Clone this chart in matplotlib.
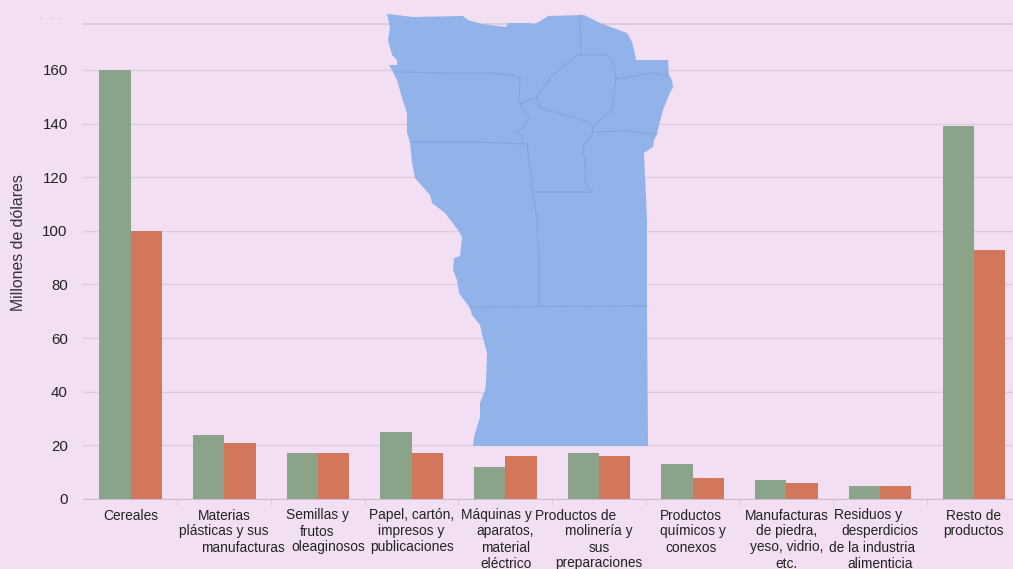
#Exportaciones por tipo de producto, con el mapa de fondo
import numpy as np
import matplotlib
matplotlib.use('Agg')
import matplotlib.pyplot as plt

plt.rcParams['font.family'] = ['Liberation Sans', 'DejaVu Sans']

#Datos
categorias = ['Cereales', 'Materias\nplásticas y sus\nmanufacturas', 'Semillas y\nfrutos\noleaginosos',
              'Papel, cartón,\nimpresos y\npublicaciones', 'Máquinas y\naparatos,\nmaterial\neléctrico',
              'Productos de\nmolinería y\nsus\npreparaciones', 'Productos\nquímicos y\nconexos',
              'Manufacturas\nde piedra,\nyeso, vidrio,\netc.', 'Residuos y\ndesperdicios\nde la industria\nalimenticia',
              'Resto de\nproductos']
serie_verde = [160, 24, 17, 25, 12, 17, 13, 7, 5, 139]
serie_naranja = [100, 21, 17, 17, 16, 16, 8, 6, 5, 93]
ticks_y = [0, 20, 40, 60, 80, 100, 120, 140, 160]

#Corrimiento en pixeles de cada renglon de los rotulos (el original no los centra todos)
corrimientos = [[0], [0, 0, 19], [0, -1, 10], [0, 0, 0], [-9, 0, 0, 1], [-23, 0, 0, 0], [-2, 0, -2],
                [0, 0, 0, 0], [-12, 0, -8, 0], [0, 0]]

#Contorno del mapa en pixeles de la imagen
mapa_x = [387, 397, 413, 463, 468, 482, 506, 508, 530, 533, 537, 548, 584, 600, 627, 632, 634, 636, 668, 669,
          672, 673, 669, 667, 663, 659, 657, 654, 653, 644, 647, 647, 648, 473, 474, 480, 480, 485, 486, 487,
          483, 480, 472, 470, 459, 457, 453, 454, 460, 462, 458, 445, 432, 430, 415, 412, 410, 407, 407, 402,
          397, 393, 389, 397, 397, 392, 388, 390]
mapa_y = [14, 15, 17, 16, 20, 24, 27, 23, 23, 24, 23, 16, 15, 23, 33, 42, 50, 60, 60, 75,
          80, 87, 95, 100, 110, 125, 134, 140, 147, 153, 220, 306, 446, 446, 437, 417, 403, 390, 383, 353,
          338, 325, 315, 308, 293, 280, 270, 258, 256, 237, 230, 213, 203, 195, 178, 163, 142, 133, 113, 98,
          80, 72, 65, 65, 60, 55, 40, 27]
#Limites entre departamentos
limites = [
    ([395, 447, 493, 520, 519], [72, 73, 73, 77, 103]),
    ([520, 537, 550, 577, 607, 613, 616, 612, 593, 583, 540, 537], [104, 97, 78, 55, 55, 62, 78, 110, 126, 120, 108, 97]),
    ([580, 581], [15, 55]),
    ([616, 652, 668], [79, 73, 76]),
    ([593, 630, 657], [132, 131, 134]),
    ([520, 529, 523, 516, 522, 522], [104, 118, 128, 132, 135, 144]),
    ([410, 473, 527], [142, 142, 144]),
    ([527, 533, 537, 539, 539], [144, 192, 220, 263, 306]),
    ([533, 593, 585, 586, 583, 592, 593], [192, 192, 183, 173, 147, 135, 126]),
    ([470, 647], [307, 306]),
]

fondo = '#F3DFF3'
fig = plt.figure(figsize=(10.13, 5.69), dpi=100, facecolor=fondo)
ax = fig.add_axes([83 / 1013, (569 - 499) / 569, (1013 - 83) / 1013, (499 - 16) / 569])
ax.set_facecolor(fondo)

#Barras
x = np.arange(len(categorias))
ancho = 0.334
ax.bar(x - ancho / 2, serie_verde, ancho, color='#8BA388', zorder=3)
ax.bar(x + ancho / 2, serie_naranja, ancho, color='#D2775C', zorder=3)

ax.set_xlim(-0.507, 9.418)
ax.set_ylim(0, 180.1)
ax.set_yticks(ticks_y)
ax.set_xticks(x)
ax.set_xticklabels([])
ax.tick_params(axis='x', length=0)
ax.set_xticks(x[:-1] + 0.5, minor=True)
ax.tick_params(axis='x', which='minor', length=4, color='#D6C5D8')
ax.tick_params(axis='y', length=0, labelsize=10.8, labelcolor='#222222', pad=11)
ax.grid(axis='y', color='#DCCCDE', linewidth=1, zorder=1)
ax.axhline(177.3, color='#D2CCD0', linewidth=1.2, zorder=1)
for lado in ['top', 'right', 'left']:
    ax.spines[lado].set_visible(False)
ax.spines['bottom'].set_color('#CDBDCF')
ax.set_ylabel('Millones de dólares', fontsize=11.4, color='#333333')
ax.yaxis.set_label_coords((25.5 - 83) / 930, (499 - 242.5) / 483)

#Rotulos renglon por renglon
for i, texto in enumerate(categorias):
    for j, renglon in enumerate(texto.split('\n')):
        ax.annotate(renglon, xy=(i, 0), xycoords=ax.get_xaxis_transform(),
                    xytext=(corrimientos[i][j] * 0.72, -(16.5 + 16 * j) * 0.72), textcoords='offset points',
                    ha='center', va='center', fontsize=9.9, color='#222222')

#Resto del rotulo superior, recortado en la imagen original
fig.text(51 / 1013, 1 - 21 / 569, '.   .   .', fontsize=6, color='#9A8A9A', ha='center', va='bottom')

#Mapa encima del grafico, en coordenadas de pixel
mapa = fig.add_axes([0, 0, 1, 1], zorder=5)
mapa.set_xlim(0, 1013)
mapa.set_ylim(569, 0)
mapa.axis('off')
mapa.fill(mapa_x, mapa_y, color='#8DB2EA', alpha=0.96, linewidth=0)
for lx, ly in limites:
    mapa.plot(lx, ly, color='#84A4D6', linewidth=0.7)

fig.savefig('out.png', dpi=100, facecolor=fondo)
